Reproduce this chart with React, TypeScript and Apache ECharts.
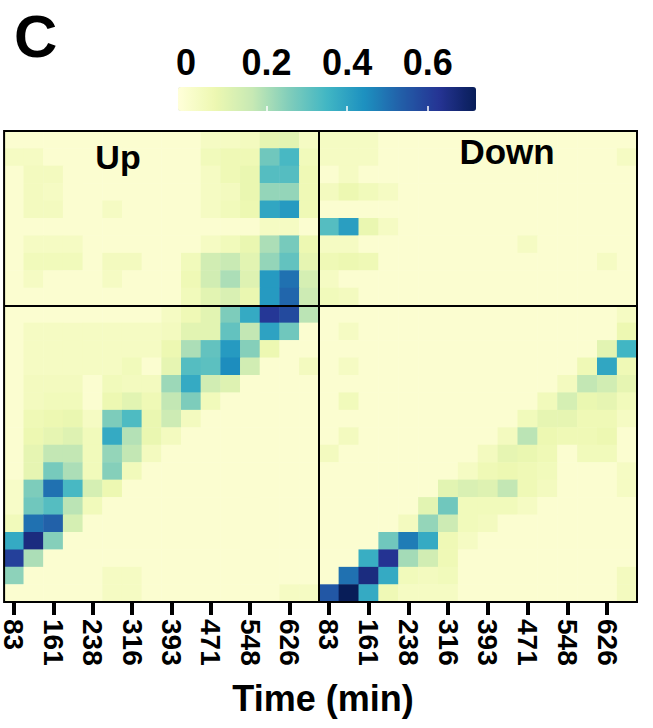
import React, { useEffect, useRef } from "react";
import * as echarts from "echarts";

// ---- data ----
const times = ["83", "122", "161", "199", "238", "277", "316", "354", "393", "432", "471", "509", "548", "587", "626", "664"];
const rowCount = 27;
const clusterBreak = 10; // first row of the lower block
const panelTitles = ["Up", "Down"];
const legendTicks = [0, 0.2, 0.4, 0.6];
const legendInnerTicks = [0.2, 0.4, 0.6];
const valueMin = -0.02;
const valueMax = 0.72;
const axisTitle = "Time (min)";
const panelLetter = "C";

const upRows = [
  [0, 0, 0, 0, 0, 0, 0, 0, 0, 0, 0.03, 0.03, 0.04, 0.09, 0.10, 0.03],
  [0.03, 0.03, 0, 0, 0, 0, 0, 0, 0, 0, 0.05, 0.06, 0.06, 0.28, 0.34, 0.05],
  [0, 0.04, 0.04, 0, 0, 0, 0, 0, 0, 0, 0.03, 0.06, 0.08, 0.32, 0.32, 0.06],
  [0, 0.04, 0.03, 0, 0, 0, 0, 0, 0, 0, 0.03, 0.04, 0.08, 0.23, 0.23, 0.06],
  [0, 0.04, 0.04, 0, 0, 0.03, 0, 0, 0, 0, 0.03, 0.05, 0.07, 0.39, 0.42, 0.06],
  [0, 0, 0, 0, 0, 0, 0, 0, 0, 0, 0, 0, 0, 0.03, 0.03, 0],
  [0, 0.03, 0.03, 0.03, 0, 0, 0, 0, 0, 0, 0.03, 0.05, 0.08, 0.20, 0.27, 0.07],
  [0, 0.05, 0.05, 0.05, 0, 0.04, 0.04, 0, 0, 0.05, 0.14, 0.16, 0.10, 0.23, 0.30, 0.09],
  [0, 0.03, 0, 0, 0, 0.03, 0, 0, 0, 0.06, 0.14, 0.20, 0.11, 0.42, 0.50, 0.13],
  [0, 0, 0, 0, 0, 0, 0, 0, 0, 0.05, 0.10, 0.12, 0.08, 0.42, 0.52, 0.15],
  [0, 0, 0, 0, 0, 0, 0, 0, 0.03, 0.06, 0.10, 0.26, 0.38, 0.62, 0.58, 0.18],
  [0, 0.03, 0.03, 0.03, 0.03, 0.03, 0.03, 0.03, 0.04, 0.10, 0.10, 0.30, 0.17, 0.40, 0.28, 0],
  [0, 0.03, 0.03, 0.03, 0.03, 0.03, 0.03, 0.03, 0.07, 0.20, 0.30, 0.42, 0.25, 0.07, 0, 0],
  [0, 0.03, 0.03, 0.03, 0.03, 0.03, 0.05, 0, 0.09, 0.32, 0.31, 0.45, 0.14, 0, 0, 0.04],
  [0, 0.04, 0.04, 0.04, 0, 0.05, 0.04, 0.04, 0.22, 0.38, 0.14, 0.11, 0, 0, 0, 0],
  [0, 0.04, 0.05, 0.05, 0, 0.07, 0.10, 0.06, 0.17, 0.26, 0.05, 0, 0, 0, 0, 0],
  [0, 0.06, 0.07, 0.08, 0.03, 0.26, 0.33, 0.08, 0.15, 0.04, 0, 0, 0, 0, 0, 0],
  [0, 0.07, 0.09, 0.11, 0.05, 0.38, 0.19, 0.08, 0.04, 0, 0, 0, 0, 0, 0, 0],
  [0, 0.09, 0.17, 0.17, 0.05, 0.23, 0.17, 0.04, 0, 0, 0, 0, 0, 0, 0, 0],
  [0, 0.09, 0.27, 0.20, 0.05, 0.25, 0.05, 0, 0, 0, 0, 0, 0, 0, 0, 0],
  [0.02, 0.26, 0.50, 0.34, 0.13, 0.07, 0, 0, 0, 0, 0, 0, 0, 0, 0, 0],
  [0.02, 0.28, 0.32, 0.18, 0.05, 0, 0, 0, 0, 0, 0, 0, 0, 0, 0, 0],
  [0.05, 0.50, 0.53, 0.13, 0, 0, 0, 0, 0, 0, 0, 0, 0, 0, 0, 0],
  [0.38, 0.66, 0.25, 0, 0, 0, 0, 0, 0, 0, 0, 0, 0, 0, 0, 0],
  [0.60, 0.20, 0, 0, 0, 0, 0, 0, 0, 0, 0, 0, 0, 0, 0, 0],
  [0.24, 0, 0, 0, 0, 0.03, 0.03, 0, 0, 0, 0, 0, 0, 0, 0, 0],
  [0, 0, 0, 0, 0, 0.03, 0.03, 0, 0, 0, 0, 0, 0, 0, 0.03, 0.03],
];

const downRows = [
  [0.03, 0.03, 0.03, 0, 0, 0, 0, 0, 0, 0, 0, 0, 0, 0, 0, 0],
  [0.03, 0.03, 0.03, 0, 0, 0, 0, 0, 0, 0, 0, 0, 0, 0, 0, 0.03],
  [0, 0.03, 0, 0, 0, 0, 0, 0, 0, 0, 0, 0, 0, 0, 0, 0],
  [0.04, 0.07, 0.05, 0.03, 0, 0, 0, 0, 0, 0, 0, 0, 0, 0, 0, 0],
  [0, 0, 0, 0, 0, 0, 0, 0, 0, 0, 0, 0, 0, 0, 0, 0],
  [0.32, 0.41, 0.08, 0.03, 0, 0, 0, 0, 0, 0, 0, 0, 0, 0, 0, 0],
  [0.03, 0.03, 0, 0, 0, 0, 0, 0, 0, 0, 0.03, 0, 0, 0, 0, 0],
  [0.06, 0.07, 0.06, 0, 0, 0, 0, 0, 0, 0, 0, 0, 0, 0, 0.03, 0],
  [0.03, 0, 0, 0, 0, 0, 0, 0, 0, 0, 0, 0, 0, 0, 0, 0],
  [0.05, 0.04, 0, 0, 0, 0, 0, 0, 0, 0, 0, 0, 0, 0, 0, 0],
  [0, 0, 0, 0, 0, 0, 0, 0, 0, 0, 0, 0, 0, 0, 0, 0.03],
  [0, 0.03, 0, 0, 0, 0, 0, 0, 0, 0, 0, 0, 0, 0, 0, 0.07],
  [0, 0, 0, 0, 0, 0, 0, 0, 0, 0, 0, 0, 0, 0, 0.10, 0.35],
  [0, 0.03, 0, 0, 0, 0, 0, 0, 0, 0, 0, 0, 0, 0.06, 0.39, 0.06],
  [0, 0, 0, 0, 0, 0, 0, 0, 0, 0, 0, 0, 0.04, 0.17, 0.14, 0.09],
  [0, 0.05, 0, 0, 0, 0, 0, 0, 0, 0, 0, 0.05, 0.13, 0.08, 0.09, 0.05],
  [0, 0, 0, 0, 0, 0, 0, 0, 0, 0, 0.05, 0.09, 0.09, 0.06, 0.06, 0.03],
  [0, 0.04, 0, 0, 0, 0, 0, 0, 0, 0.04, 0.18, 0.07, 0.06, 0.06, 0.07, 0],
  [0.04, 0, 0, 0, 0, 0, 0, 0, 0.04, 0.09, 0.08, 0.06, 0, 0.05, 0.05, 0],
  [0, 0, 0, 0, 0, 0, 0, 0.03, 0.06, 0.07, 0.06, 0.05, 0, 0, 0, 0.03],
  [0, 0, 0, 0, 0, 0, 0.10, 0.12, 0.11, 0.17, 0.06, 0.04, 0, 0, 0, 0.03],
  [0, 0, 0, 0, 0, 0.10, 0.28, 0.05, 0.05, 0.05, 0.03, 0, 0, 0, 0, 0],
  [0, 0, 0, 0, 0.04, 0.23, 0.15, 0.05, 0.04, 0, 0, 0, 0, 0, 0, 0],
  [0, 0, 0, 0.28, 0.48, 0.38, 0.06, 0.03, 0, 0, 0, 0, 0, 0, 0, 0],
  [0, 0, 0.37, 0.63, 0.21, 0.14, 0.06, 0, 0, 0, 0, 0, 0, 0, 0, 0],
  [0, 0.50, 0.66, 0.38, 0.05, 0.04, 0.05, 0, 0, 0, 0, 0, 0, 0, 0, 0.04],
  [0.55, 0.72, 0.38, 0.06, 0.03, 0.03, 0.03, 0, 0, 0, 0, 0, 0, 0, 0, 0.04],
];

const palette = ["#ffffd9", "#edf8b1", "#c7e9b4", "#7fcdbb", "#41b6c4", "#1d91c0", "#225ea8", "#253494", "#081d58"];

const FONT = "'Liberation Sans', Arial, Helvetica, sans-serif";

const rowIds = Array.from({ length: rowCount }, (_, i) => "r" + (i + 1));

function toCells(rows: number[][]) {
  const out: [number, number, number][] = [];
  rows.forEach((row, r) => row.forEach((v, c) => out.push([c, r, v])));
  return out;
}

export default function App() {
  const ref = useRef<HTMLDivElement>(null);
  useEffect(() => {
    if (!ref.current) return;
    const chart = echarts.init(ref.current, null, { renderer: "svg" });

    const panelX = (gi: number) => ({
      type: "category",
      gridIndex: gi,
      data: times,
      position: "bottom",
      axisLine: { show: false },
      axisTick: {
        show: true,
        interval: 1,
        alignWithLabel: true,
        length: 13,
        lineStyle: { color: "#000", width: 4 },
      },
      axisLabel: {
        interval: 1,
        rotate: -90,
        fontSize: 28,
        lineHeight: 18,
        fontWeight: "bold",
        color: "#000",
        margin: 17,
        fontFamily: FONT,
      },
      splitLine: { show: false },
      z: 10,
    });
    const panelY = (gi: number) => ({
      type: "category",
      gridIndex: gi,
      data: rowIds,
      inverse: true,
      axisLine: { show: false },
      axisTick: { show: false },
      axisLabel: { show: false },
      splitLine: {
        show: true,
        interval: (i: number) => i === 0 || i === clusterBreak,
        lineStyle: { color: "#000", width: 2 },
      },
      z: 10,
    });
    const frame = { show: true, borderColor: "#000", borderWidth: 2, backgroundColor: "transparent", z: 10 };

    const option: any = {
      animation: false,
      backgroundColor: "#fff",
      grid: [
        { left: 2, top: 131, width: 317, height: 471, ...frame },
        { left: 319, top: 131, width: 318, height: 471, ...frame },
        { left: 178, top: 87, width: 298, height: 24, show: false },
      ],
      xAxis: [
        panelX(0),
        panelX(1),
        {
          type: "value",
          gridIndex: 2,
          min: valueMin,
          max: valueMax,
          position: "top",
          axisLine: { show: false },
          axisTick: { show: true, inside: true, length: 5, customValues: legendInnerTicks, lineStyle: { color: "#fff", width: 1.5 } },
          axisLabel: { customValues: legendTicks, fontSize: 36, fontWeight: "bold", color: "#000", margin: 7, fontFamily: FONT },
          splitLine: { show: false },
          z: 10,
        },
        {
          type: "value",
          gridIndex: 2,
          min: valueMin,
          max: valueMax,
          position: "bottom",
          axisLine: { show: false },
          axisTick: { show: true, inside: true, length: 5, customValues: legendInnerTicks, lineStyle: { color: "#fff", width: 1.5 } },
          axisLabel: { show: false },
          splitLine: { show: false },
          z: 10,
        },
      ],
      yAxis: [panelY(0), panelY(1), { type: "value", gridIndex: 2, show: false }],
      visualMap: {
        type: "continuous",
        min: valueMin,
        max: valueMax,
        orient: "horizontal",
        left: 178,
        top: 87,
        itemWidth: 24,
        itemHeight: 298,
        padding: 0,
        calculable: false,
        showLabel: false,
        text: null,
        seriesIndex: [0, 1],
        inRange: { color: palette },
      },
      series: [
        {
          type: "heatmap",
          xAxisIndex: 0,
          yAxisIndex: 0,
          data: toCells(upRows),
          itemStyle: { borderWidth: 0 },
          emphasis: { disabled: true },
          progressive: 0,
        },
        {
          type: "heatmap",
          xAxisIndex: 1,
          yAxisIndex: 1,
          data: toCells(downRows),
          itemStyle: { borderWidth: 0 },
          emphasis: { disabled: true },
          progressive: 0,
        },
      ],
      graphic: [
        {
          type: "text",
          left: 14,
          top: 6,
          style: { text: panelLetter, fontSize: 60, fontWeight: "bold", fill: "#000", fontFamily: FONT },
        },
        {
          type: "text",
          x: 118,
          y: 157,
          style: { text: panelTitles[0], fontSize: 34, fontWeight: "bold", fill: "#000", fontFamily: FONT, align: "center", verticalAlign: "middle" },
          z: 20,
        },
        {
          type: "text",
          x: 507,
          y: 151,
          style: { text: panelTitles[1], fontSize: 35, fontWeight: "bold", fill: "#000", fontFamily: FONT, align: "center", verticalAlign: "middle" },
          z: 20,
        },
        {
          type: "text",
          x: 323,
          y: 698,
          style: { text: axisTitle, fontSize: 36, fontWeight: "bold", fill: "#000", fontFamily: FONT, align: "center", verticalAlign: "middle" },
        },
      ],
    };
    chart.setOption(option);
    return () => chart.dispose();
  }, []);
  return <div ref={ref} style={{ position: "absolute", left: 0, top: 0, width: 653, height: 728 }} />;
}
